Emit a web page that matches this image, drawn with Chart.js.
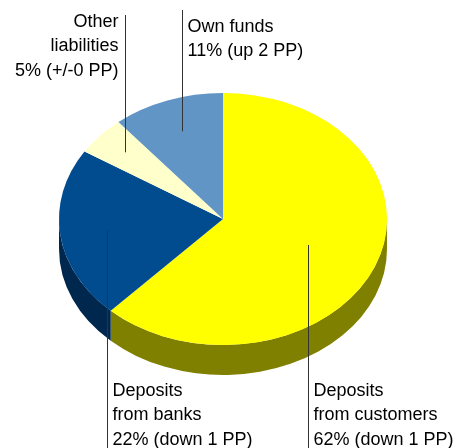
<!DOCTYPE html>
<html>
<head>
<meta charset="utf-8">
<script src="https://cdn.jsdelivr.net/npm/chart.js@4/dist/chart.umd.min.js"></script>
<style>
  body { margin: 0; background: #fff; }
</style>
</head>
<body>
<canvas id="pie" width="460" height="448"></canvas>
<script>
const categories = [["Deposits", "from customers"], ["Deposits", "from banks"], ["Other", "liabilities"], ["Own funds"]];
const shares = [62, 22, 5, 11];
const changes = ["down 1 PP", "down 1 PP", "+/-0 PP", "up 2 PP"];

const topColors = ["#ffff00", "#004c8f", "#ffffcc", "#6095c5"];
const sideColors = ["#808000", "#00284f", "#808066", "#304b62"];

const tilt = 126 / 164;
const depth = 30;

// leader anchor (fraction of radius along mid angle), text side, first baseline, line end
const callouts = [
  { r: 0.56, align: "left", baseline: 396, lineTo: 448 },
  { r: 0.71, align: "left", baseline: 396, lineTo: 448 },
  { r: 0.80, align: "right", baseline: 27, lineTo: 15 },
  { r: 0.74, align: "left", baseline: 32, lineTo: 10 }
];

const pie3d = {
  id: "pie3d",
  beforeDatasetsDraw(chart) {
    const ctx = chart.ctx;
    const arcs = chart.getDatasetMeta(0).data;
    const { x, y, outerRadius } = arcs[0];
    const rx = outerRadius, ry = outerRadius * tilt;
    // side walls, only the front half is visible
    arcs.forEach((arc, i) => {
      const s = Math.max(arc.startAngle, 0);
      const e = Math.min(arc.endAngle, Math.PI);
      if (e <= s) return;
      ctx.beginPath();
      ctx.ellipse(x, y, rx, ry, 0, s, e);
      ctx.ellipse(x, y + depth, rx, ry, 0, e, s, true);
      ctx.closePath();
      ctx.fillStyle = sideColors[i];
      ctx.fill();
    });
    // squash the top face
    ctx.save();
    ctx.translate(x, y);
    ctx.scale(1, tilt);
    ctx.translate(-x, -y);
  },
  afterDatasetsDraw(chart) {
    chart.ctx.restore();
  }
};

const labelsPlugin = {
  id: "callouts",
  afterDraw(chart) {
    const ctx = chart.ctx;
    const arcs = chart.getDatasetMeta(0).data;
    ctx.save();
    ctx.font = "18px 'Liberation Sans', Arial, sans-serif";
    ctx.fillStyle = "#000";
    ctx.strokeStyle = "#333";
    ctx.lineWidth = 1;
    arcs.forEach((arc, i) => {
      const c = callouts[i];
      const mid = (arc.startAngle + arc.endAngle) / 2;
      const ax = arc.x + Math.cos(mid) * arc.outerRadius * c.r;
      const ay = arc.y + Math.sin(mid) * arc.outerRadius * tilt * c.r;
      const lx = Math.round(ax) + 0.5;
      ctx.beginPath();
      ctx.moveTo(lx, ay);
      ctx.lineTo(lx, c.lineTo);
      ctx.stroke();
      const lines = [...categories[i], shares[i] + "% (" + changes[i] + ")"];
      ctx.textAlign = c.align;
      ctx.textBaseline = "alphabetic";
      const tx = c.align === "left" ? lx + 5 : lx - 7;
      lines.forEach((t, k) => ctx.fillText(t, tx, c.baseline + k * 24.3));
    });
    ctx.restore();
  }
};

new Chart(document.getElementById("pie"), {
  type: "pie",
  data: {
    labels: categories.map(c => c.join(" ")),
    datasets: [{
      data: shares,
      backgroundColor: topColors,
      borderWidth: 0,
      clip: false
    }]
  },
  options: {
    responsive: false,
    animation: false,
    events: [],
    layout: { padding: { left: 59, right: 73, top: 55, bottom: 65 } },
    plugins: {
      legend: { display: false },
      tooltip: { enabled: false }
    }
  },
  plugins: [pie3d, labelsPlugin]
});
</script>
</body>
</html>
